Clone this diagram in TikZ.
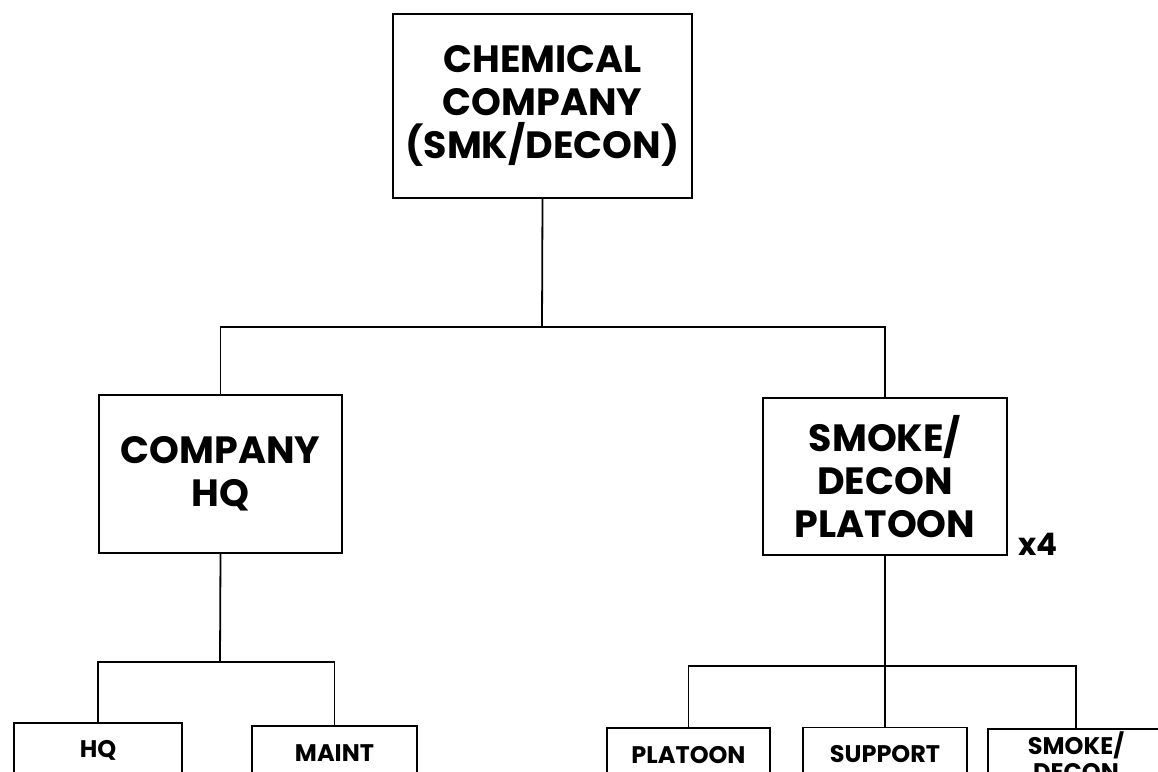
\documentclass[tikz,border=0pt]{standalone}
\usepackage{fontspec}
\setmainfont{Poppins}
\usepackage{tikz}
\usetikzlibrary{positioning}

\begin{document}
\begin{tikzpicture}[x=1pt, y=-1pt,
    unitbox/.style={draw, line width=1.8pt, align=center, inner sep=0pt,
        font=\fontsize{38}{43}\selectfont\bfseries},
    subbox/.style={draw, line width=1.8pt, align=center, inner sep=0pt,
        minimum height=54, font=\fontsize{24}{26}\selectfont\bfseries},
    link/.style={line width=1.8pt}]
    \useasboundingbox (0,0) rectangle (1158,771);
    \clip (0,0) rectangle (1158,771);

    % Company
    \node[unitbox, minimum width=299, minimum height=184] (chem) at (542.5,106)
        {CHEMICAL\\COMPANY\\(SMK/DECON)};

    % Second level
    \node[unitbox, minimum width=243, minimum height=158] (hq) at (220.5,474)
        {COMPANY\\HQ};
    \node[unitbox, minimum width=244, minimum height=157] (sdp) at (885,476.5)
        {SMOKE/\\DECON\\PLATOON};
    \node[font=\fontsize{31}{33}\selectfont\bfseries, inner sep=0pt,
        anchor=base west] (mult) at ([xshift=10pt]sdp.south east) {x4};

    % Sections (cut off at the bottom)
    \node[subbox, minimum width=168] (hqsec) at (98,750) {HQ};
    \node[subbox, minimum width=165] (maint) at (334.5,753) {MAINT};
    \node[subbox, minimum width=163] (plt) at (688.5,755) {PLATOON};
    \node[subbox, minimum width=164] (supp) at (885,754.5) {SUPPORT};
    \node[subbox, minimum width=176] (smk) at (1076,756) {SMOKE/\\DECON};

    % Joins
    \coordinate (topjoin) at (542,327);
    \coordinate (hqjoin) at (220,662);
    \coordinate (sdpjoin) at (885,666);

    % Lines
    \draw[link] (chem.south) -- (topjoin);
    \draw[link] (hq.north) |- (topjoin) -| (sdp.north);
    \draw[link] (hq.south) -- (hqjoin);
    \draw[link] (hqsec.north) |- (hqjoin) -| (maint.north);
    \draw[link] (sdp.south) -- (supp.north);
    \draw[link] (plt.north) |- (sdpjoin) -| (smk.north);
\end{tikzpicture}
\end{document}
